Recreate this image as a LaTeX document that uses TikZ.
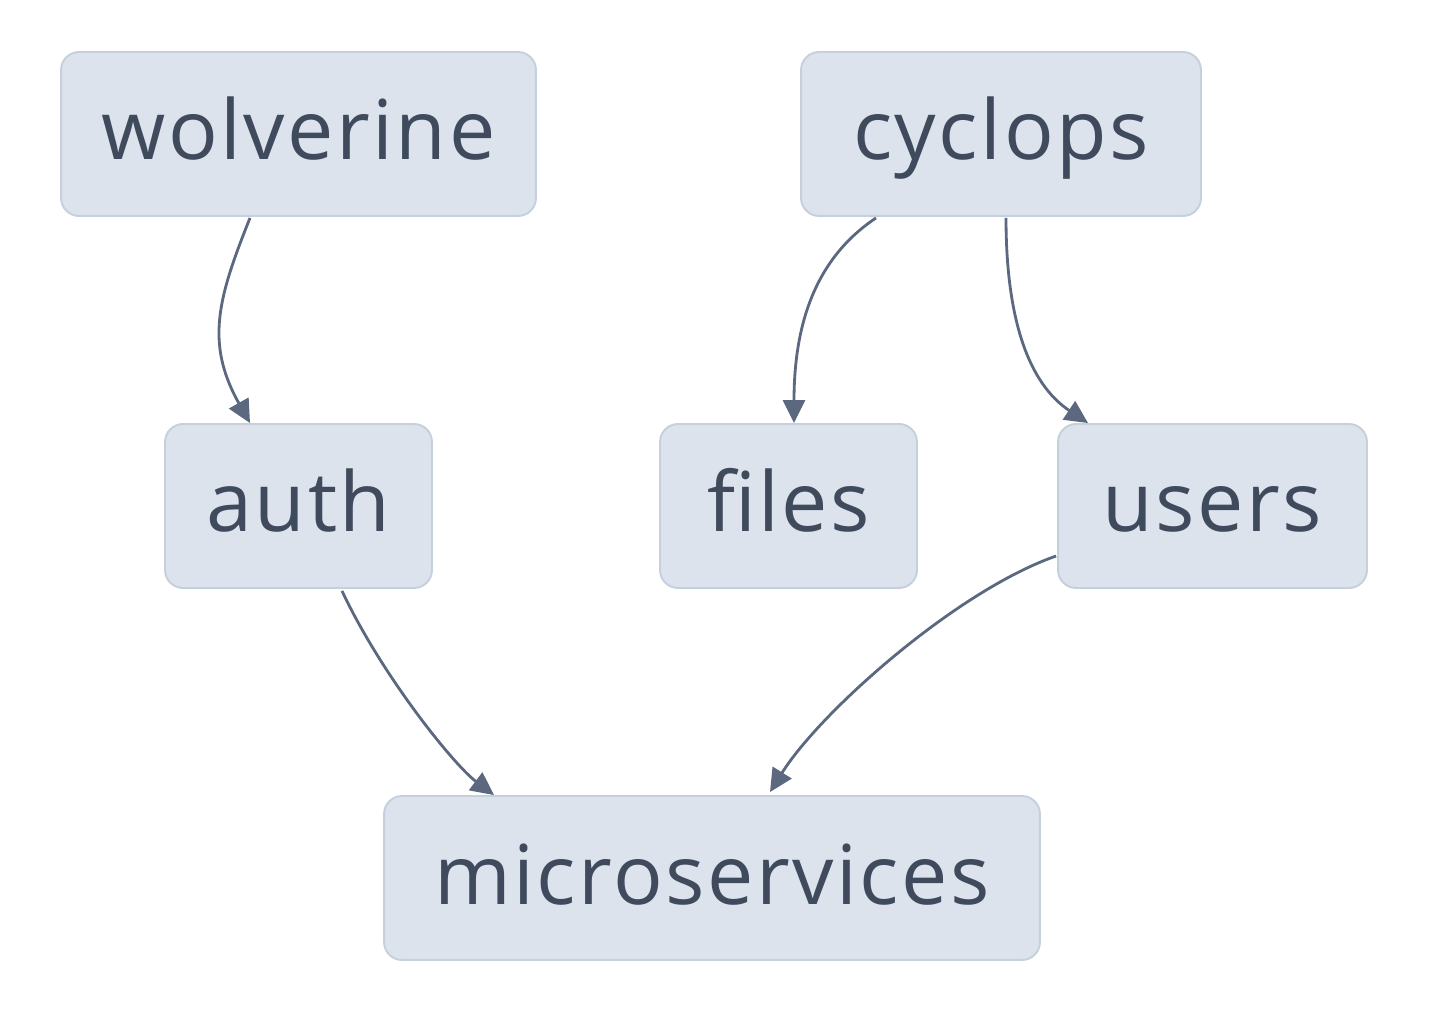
\documentclass[tikz,border=0pt]{standalone}
\usepackage{fontspec}
\setmainfont{Open Sans}[LetterSpace=3]
\usepackage{xcolor}
\usepackage{tikz}
\usetikzlibrary{arrows.meta, positioning, calc}
\definecolor{boxfill}{HTML}{DCE3ED}
\definecolor{boxline}{HTML}{C6D0DD}
\definecolor{boxtext}{HTML}{3F4A5C}
\definecolor{edgecol}{HTML}{5B6880}

\tikzset{
  svcbox/.style={draw=boxline, fill=boxfill, line width=1.1pt, rounded corners=0.36cm,
    inner sep=0pt, minimum height=3.28cm, text height=1.6cm, text depth=0.56cm,
    font=\fontsize{47}{50}\selectfont, text=boxtext},
  dep/.style={draw=edgecol, line width=1.6pt, -{Triangle[length=0.46cm, width=0.44cm]}}
}

\begin{document}
\begin{tikzpicture}[x=0.02cm, y=-0.02cm]
  \useasboundingbox (0,0) rectangle (1452,1016);

  % Services
  \node[svcbox, minimum width=9.5cm]   (wolverine) at (298.5, 134) {wolverine};
  \node[svcbox, minimum width=8cm]     (cyclops)   at (1001, 134)  {cyclops};
  \node[svcbox, minimum width=5.34cm]  (auth)      at (298.5, 506) {auth};
  \node[svcbox, minimum width=5.14cm]  (files)     at (788.5, 506) {files};
  \node[svcbox, minimum width=6.18cm]  (users)     at (1212.5, 506) {users};
  \node[svcbox, minimum width=13.12cm] (micro)     at (712, 878)   {microservices};

  % Dependencies
  \draw[dep] ($(wolverine.south)+(-48.5,1)$) .. controls +(-32,80) and +(-45,-80) .. ($(auth.north)+(-48.5,0)$);
  \draw[dep] ($(cyclops.south)+(-125,1)$) .. controls +(-60,40) and +(0,-100) .. ($(files.north)+(5.5,0)$);
  \draw[dep] ($(cyclops.south)+(5,1)$) .. controls +(0,100) and +(-60,-40) .. ($(users.north)+(-124.5,0)$);
  \draw[dep] ($(auth.south)+(43.5,2)$) .. controls +(40,85) and +(-40,-30) .. ($(micro.north)+(-218,0)$);
  \draw[dep] ($(users.west)+(-1,50)$) .. controls +(-100,35) and +(50,-80) .. ($(micro.north)+(58,-3)$);
\end{tikzpicture}
\end{document}
